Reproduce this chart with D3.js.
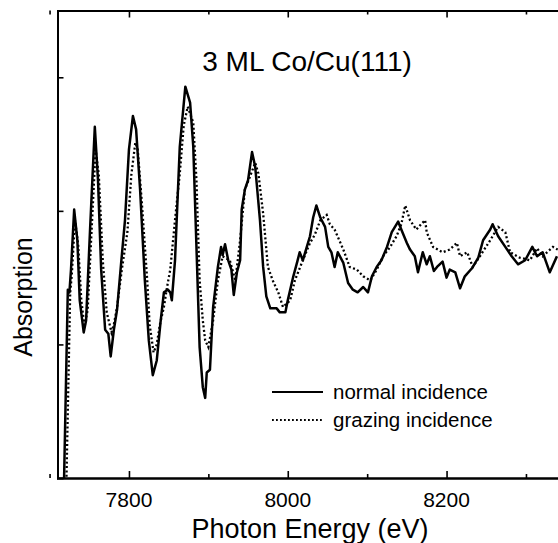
<!DOCTYPE html>
<html>
<head>
<meta charset="utf-8">
<script src="https://cdn.jsdelivr.net/npm/d3@7"></script>
<style>
  body { margin: 0; background: #fff; }
  svg { display: block; font-family: "Liberation Sans", Arial, sans-serif; }
</style>
</head>
<body>
<svg id="chart" width="558" height="543"></svg>
<script>
// energies (eV) and absorption
const normalE = [7718, 7723, 7725, 7727, 7731, 7735, 7738, 7743, 7746, 7751, 7757, 7761, 7765, 7770, 7774, 7777, 7781, 7785, 7790, 7795, 7800, 7805, 7809, 7814, 7820, 7825, 7830, 7835, 7840, 7844, 7849, 7852, 7854, 7858, 7864, 7871, 7877, 7881, 7885, 7889, 7893, 7896, 7898, 7902, 7906, 7912, 7916, 7918, 7921, 7925, 7929, 7932, 7936, 7940, 7942, 7946, 7950, 7955, 7959, 7965, 7969, 7973, 7978, 7986, 7990, 7997, 8000, 8007, 8012, 8015, 8019, 8024, 8028, 8032, 8036, 8041, 8047, 8051, 8055, 8059, 8063, 8070, 8076, 8082, 8088, 8095, 8101, 8106, 8112, 8118, 8125, 8131, 8139, 8143, 8150, 8154, 8160, 8164, 8170, 8175, 8179, 8184, 8188, 8195, 8200, 8204, 8211, 8217, 8223, 8232, 8240, 8246, 8255, 8258, 8265, 8274, 8282, 8290, 8299, 8308, 8314, 8321, 8330, 8339];
const normalA = [-0.09, 1.41, 1.39, 1.56, 2.01, 1.78, 1.33, 1.09, 1.18, 1.86, 2.63, 2.23, 1.56, 1.11, 1.08, 0.91, 1.11, 1.26, 1.60, 1.93, 2.46, 2.71, 2.61, 2.16, 1.48, 1.03, 0.77, 0.88, 1.18, 1.39, 1.41, 1.39, 1.33, 1.63, 2.48, 2.93, 2.81, 2.48, 1.73, 0.98, 0.68, 0.60, 0.79, 0.81, 1.28, 1.58, 1.73, 1.67, 1.75, 1.63, 1.56, 1.37, 1.54, 1.63, 2.01, 2.16, 2.23, 2.44, 2.33, 1.93, 1.58, 1.36, 1.27, 1.27, 1.24, 1.24, 1.33, 1.51, 1.62, 1.69, 1.63, 1.73, 1.81, 1.95, 2.04, 1.95, 1.88, 1.73, 1.69, 1.58, 1.69, 1.61, 1.46, 1.41, 1.39, 1.43, 1.39, 1.51, 1.58, 1.63, 1.73, 1.84, 1.92, 1.86, 1.76, 1.71, 1.66, 1.54, 1.69, 1.60, 1.66, 1.55, 1.58, 1.62, 1.50, 1.56, 1.54, 1.42, 1.51, 1.57, 1.65, 1.78, 1.86, 1.90, 1.81, 1.73, 1.66, 1.60, 1.63, 1.73, 1.66, 1.69, 1.54, 1.66];

const grazingE = [7721, 7726, 7728, 7732, 7736, 7740, 7744, 7748, 7753, 7758, 7762, 7767, 7772, 7778, 7781, 7785, 7791, 7798, 7803, 7808, 7811, 7816, 7823, 7826, 7831, 7835, 7839, 7844, 7848, 7852, 7858, 7864, 7869, 7874, 7881, 7885, 7889, 7893, 7896, 7900, 7906, 7912, 7918, 7927, 7934, 7940, 7946, 7952, 7959, 7963, 7969, 7975, 7981, 7988, 7994, 8003, 8009, 8019, 8028, 8034, 8041, 8049, 8053, 8059, 8070, 8078, 8087, 8095, 8104, 8112, 8120, 8129, 8137, 8143, 8148, 8154, 8162, 8168, 8173, 8175, 8183, 8195, 8204, 8213, 8217, 8226, 8233, 8242, 8255, 8265, 8274, 8280, 8292, 8305, 8314, 8321, 8334, 8340];
const grazingA = [-0.09, 1.39, 1.52, 1.93, 1.75, 1.33, 1.13, 1.26, 1.86, 2.46, 2.27, 1.63, 1.24, 1.09, 1.15, 1.28, 1.56, 1.84, 2.27, 2.51, 2.46, 2.08, 1.48, 1.15, 0.94, 1.00, 1.15, 1.28, 1.43, 1.56, 1.93, 2.28, 2.64, 2.78, 2.66, 2.23, 1.48, 1.18, 1.03, 0.98, 1.18, 1.48, 1.66, 1.63, 1.48, 1.78, 2.16, 2.25, 2.36, 2.28, 1.98, 1.58, 1.48, 1.39, 1.28, 1.33, 1.48, 1.63, 1.76, 1.82, 1.93, 1.97, 1.90, 1.86, 1.71, 1.58, 1.56, 1.51, 1.48, 1.56, 1.66, 1.73, 1.81, 1.90, 2.04, 1.93, 1.86, 1.90, 1.93, 1.84, 1.73, 1.69, 1.71, 1.76, 1.66, 1.69, 1.58, 1.66, 1.78, 1.88, 1.84, 1.69, 1.65, 1.63, 1.72, 1.66, 1.73, 1.71];

const majorTicks = [7800, 8000, 8200];
const minorTicks = [7700, 7900, 8100, 8300];
const yTicks = [1, 2, 3];
const seriesNames = ['normal incidence', 'grazing incidence'];

const svg = d3.select('#chart');
const margin = { top: 10, left: 57.5, bottom: 478 };

// plot box runs past the right edge of the window
const x = d3.scaleLinear().domain([7710, 8400]).range([margin.left, margin.left + 690 * 0.794]);
const y = d3.scaleLinear().domain([0, 3.5]).range([margin.bottom, margin.top + 0.5]);

svg.append('clipPath').attr('id', 'plotClip')
    .append('rect')
    .attr('x', x(7710)).attr('y', y(3.5))
    .attr('width', x(8400) - x(7710)).attr('height', y(0) - y(3.5));

const line = d3.line().x(d => x(d[0])).y(d => y(d[1]));

const plot = svg.append('g').attr('clip-path', 'url(#plotClip)');

plot.append('path')
    .datum(grazingE.map((e, i) => [e, grazingA[i]]))
    .attr('d', line)
    .attr('fill', 'none')
    .attr('stroke', '#000')
    .attr('stroke-width', 2.3)
    .attr('stroke-dasharray', '2,2.4');

plot.append('path')
    .datum(normalE.map((e, i) => [e, normalA[i]]))
    .attr('d', line)
    .attr('fill', 'none')
    .attr('stroke', '#000')
    .attr('stroke-width', 2.5)
    .attr('stroke-linejoin', 'round');

// axes, ticks pointing inward
svg.append('g')
    .attr('transform', `translate(0, ${y(0)})`)
    .call(d3.axisTop(x).tickValues(majorTicks).tickSize(7).tickFormat(''));
svg.append('g')
    .attr('transform', `translate(0, ${y(0)})`)
    .call(d3.axisTop(x).tickValues(minorTicks).tickSize(4).tickFormat(''));
svg.append('g')
    .attr('transform', `translate(0, ${y(3.5)})`)
    .call(d3.axisBottom(x).tickValues(majorTicks).tickSize(7).tickFormat(''));
svg.append('g')
    .attr('transform', `translate(0, ${y(3.5)})`)
    .call(d3.axisBottom(x).tickValues(minorTicks).tickSize(4).tickFormat(''));
svg.append('g')
    .attr('transform', `translate(${x(7710)}, 0)`)
    .call(d3.axisRight(y).tickValues(yTicks).tickSize(6).tickFormat(''));

svg.selectAll('.domain').attr('stroke', '#000').attr('stroke-width', 2);
svg.selectAll('.tick line').attr('stroke', '#000').attr('stroke-width', 1.6);

// tick labels
svg.selectAll('.xlabel')
    .data(majorTicks)
    .enter().append('text')
    .attr('x', d => x(d))
    .attr('y', 507)
    .attr('text-anchor', 'middle')
    .style('font-size', '21px')
    .text(d => d);

// axis titles
svg.append('text')
    .attr('x', 310)
    .attr('y', 538)
    .attr('text-anchor', 'middle')
    .style('font-size', '27px')
    .text('Photon Energy (eV)');

svg.append('text')
    .attr('transform', `translate(32, 297) rotate(-90)`)
    .attr('text-anchor', 'middle')
    .style('font-size', '25px')
    .text('Absorption');

svg.append('text')
    .attr('x', 307)
    .attr('y', 71)
    .attr('text-anchor', 'middle')
    .style('font-size', '28px')
    .text('3 ML Co/Cu(111)');

// legend
const legend = svg.append('g').attr('transform', 'translate(272, 392)');
seriesNames.forEach((name, i) => {
    legend.append('line')
        .attr('x1', 0).attr('x2', 51)
        .attr('y1', i * 28).attr('y2', i * 28)
        .attr('stroke', '#000')
        .attr('stroke-width', i === 0 ? 1.8 : 2)
        .attr('stroke-dasharray', i === 0 ? null : '1.8,2.2');
    legend.append('text')
        .attr('x', 61)
        .attr('y', i * 28 + 7)
        .style('font-size', '20.5px')
        .text(name);
});
</script>
</body>
</html>
